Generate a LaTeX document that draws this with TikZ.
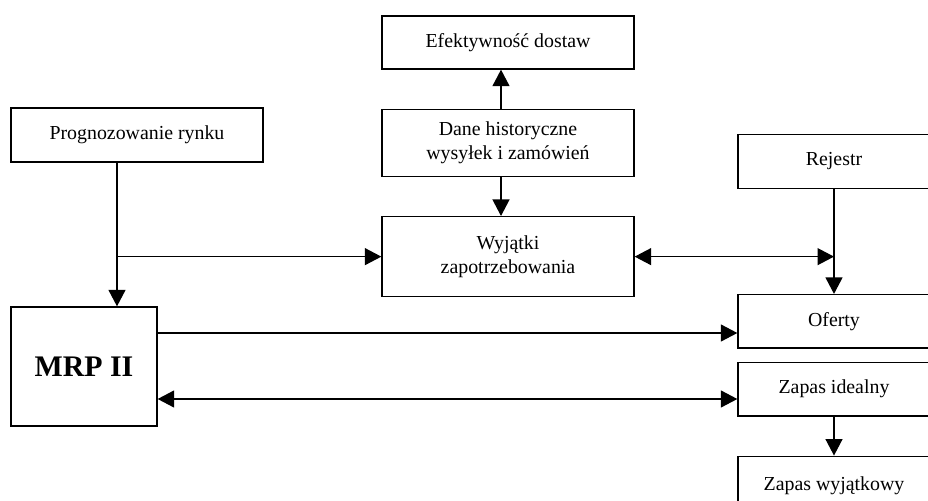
\documentclass[tikz,border=0pt]{standalone}
\usepackage{fontspec}
\setmainfont{Liberation Serif}
\usepackage{tikz}
\usetikzlibrary{
  arrows.meta,
  positioning,
  calc
}

\begin{document}
\begin{tikzpicture}[
  every node/.style={font=\fontsize{11.3}{13.5}\selectfont},
  box/.style={rectangle, draw, line width=0.75pt, align=center, inner sep=0pt},
  widebox/.style={box, minimum width=5.04cm},
  sidebox/.style={box, minimum width=3.84cm, minimum height=1.07cm},
  arr/.style={line width=0.7pt, -{Triangle[length=0.33cm, width=0.34cm]}},
  darr/.style={line width=0.7pt, {Triangle[length=0.33cm, width=0.34cm]}-{Triangle[length=0.33cm, width=0.34cm]}}
]
  \useasboundingbox (0,0) rectangle (18.56,-10.02);
  \clip (0,0) rectangle (18.56,-10.02);

  \node[widebox, minimum height=1.08cm] (prog) at (2.74,-2.70) {Prognozowanie rynku};

  \node[widebox, minimum height=1.06cm] (efekt) at (10.16,-0.85) {Efektywność dostaw};
  \node[widebox, minimum height=1.34cm, below=0.78cm of efekt] (dane)
      {Dane historyczne\\wysyłek i zamówień};
  \node[widebox, minimum height=1.60cm, below=0.78cm of dane] (wyj)
      {Wyjątki\\zapotrzebowania};

  \node[sidebox] (rej) at (16.68,-3.23) {Rejestr};
  \node[sidebox, below=2.10cm of rej] (oferty) {Oferty};
  \node[sidebox, below=0.26cm of oferty] (zideal) {Zapas idealny};
  \node[sidebox, minimum height=1.20cm, below=0.78cm of zideal] (zwyj) {Zapas wyjątkowy};

  \node[box, minimum width=2.92cm, minimum height=2.38cm,
    font=\fontsize{17}{20}\selectfont\bfseries] (mrp) at (1.68,-7.33) {MRP II};

  % prognozy
  \coordinate (pdown) at ([xshift=-0.40cm]prog.south);
  \draw[arr] (pdown) -- (pdown |- mrp.north);
  \draw[arr] (pdown |- wyj.west) -- (wyj.west);

  % dane historyczne
  \draw[arr] ([xshift=-0.14cm]dane.north) -- ([xshift=-0.14cm]efekt.south);
  \draw[arr] ([xshift=-0.14cm]dane.south) -- ([xshift=-0.14cm]wyj.north);

  % prawa kolumna
  \draw[darr] (wyj.east) -- (rej.south |- wyj.east);
  \draw[arr] (rej.south) -- (oferty.north);
  \draw[arr] (zideal.south) -- (zwyj.north);

  % MRP II
  \coordinate (mout) at ([yshift=0.67cm]mrp.east);
  \coordinate (mback) at ([yshift=-0.65cm]mrp.east);
  \draw[arr] (mout) -- (mout -| oferty.west);
  \draw[darr] (mback) -- (mback -| zideal.west);
\end{tikzpicture}
\end{document}
